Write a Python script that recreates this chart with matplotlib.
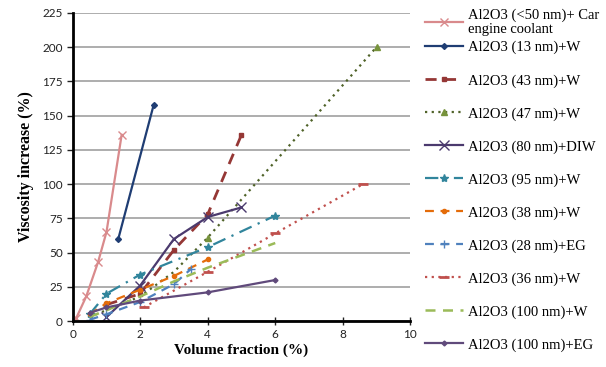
import matplotlib
matplotlib.use("Agg")
import matplotlib.pyplot as plt

# volume fraction (%) and viscosity increase (%) per nanofluid
labels = [
    "Al2O3 (<50 nm)+ Car\nengine coolant",
    "Al2O3 (13 nm)+W",
    "Al2O3 (43 nm)+W",
    "Al2O3 (47 nm)+W",
    "Al2O3 (80 nm)+DIW",
    "Al2O3 (95 nm)+W",
    "Al2O3 (38 nm)+W",
    "Al2O3 (28 nm)+EG",
    "Al2O3 (36 nm)+W",
    "Al2O3 (100 nm)+W",
    "Al2O3 (100 nm)+EG",
]

x_car = [0.1, 0.4, 0.75, 1.0, 1.45]
y_car = [2, 18, 43, 65, 136]
x_13 = [1.35, 2.4]
y_13 = [60, 158]
x_43 = [1, 2, 3, 4, 5]
y_43 = [12, 20, 52, 78, 136]
x_47 = [0.5, 1, 2, 3, 4, 9]
y_47 = [3, 8, 18, 36, 61, 200]
x_80 = [1, 2, 3, 4, 5]
y_80 = [3, 26, 60, 76, 83]
x_95 = [0.5, 1, 2, 4, 6]
y_95 = [5, 20, 34, 54, 77]
x_38 = [0.5, 1, 2, 3, 4]
y_38 = [5, 13, 23, 33, 45]
x_28 = [0.5, 1, 2, 3, 3.5]
y_28 = [1, 5, 14, 27, 38]
x_36 = [2.1, 4, 6, 8.6]
y_36 = [10, 36, 64, 100]
x_100w = [0.5, 1, 2, 3, 4, 5, 6]
y_100w = [3, 8, 18, 29, 39, 48, 57]
x_100eg = [0.5, 1, 2, 4, 6]
y_100eg = [6, 10, 15, 21, 30]

fig = plt.figure(figsize=(6.06, 3.67), dpi=100)
ax = fig.add_axes([0.120, 0.125, 0.557, 0.840])

lines = []
lines += ax.plot(x_car, y_car, color="#d98a8c", lw=1.6, marker="x", ms=6)
lines += ax.plot(x_13, y_13, color="#1f3d73", lw=1.6, marker="D", ms=3)
lines += ax.plot(x_43, y_43, color="#953735", lw=2.0, ls=(0, (4, 3)), marker="s", ms=2.5)
lines += ax.plot(x_47, y_47, color="#4f6228", lw=1.6, ls=(0, (1, 2)), marker="^", ms=5,
                 markevery=[4, 5], mfc="#77933c", mec="#77933c")
lines += ax.plot(x_80, y_80, color="#4b3a6e", lw=1.6, marker="x", ms=7)
lines += ax.plot(x_95, y_95, color="#31859c", lw=1.6, ls=(0, (6, 3, 1, 3)), marker="*", ms=6)
lines += ax.plot(x_38, y_38, color="#e46c0a", lw=1.6, ls=(0, (4, 3)), marker="o", ms=3)
lines += ax.plot(x_28, y_28, color="#4f81bd", lw=1.6, ls=(0, (4, 3)), marker="+", ms=6)
lines += ax.plot(x_36, y_36, color="#c0504d", lw=1.6, ls=(0, (1, 2)), marker="_", ms=7, mew=2)
lines += ax.plot(x_100w, y_100w, color="#9bbb59", lw=1.8, ls=(0, (4, 3)))
lines += ax.plot(x_100eg, y_100eg, color="#604a7b", lw=1.6, marker="D", ms=2.5)

ax.set_xlim(0, 10)
ax.set_ylim(0, 225)
ax.set_xticks(range(0, 11, 2))
ax.set_yticks(range(0, 226, 25))
ax.grid(axis="y", color="#a0a0a0", lw=1.2)
ax.set_axisbelow(True)
for s in ["top", "right"]:
    ax.spines[s].set_visible(False)
for s in ["left", "bottom"]:
    ax.spines[s].set_linewidth(2)
ax.tick_params(axis="y", direction="out", length=4, width=1, labelsize=8.5, pad=3, colors="#222222")
ax.tick_params(axis="x", direction="inout", length=6, width=1, labelsize=8.5, pad=3, colors="#222222")
for t in ax.get_xticklabels() + ax.get_yticklabels():
    t.set_fontfamily("Lato")

ax.set_xlabel("Volume fraction (%)", family="Liberation Serif", weight="bold", fontsize=11, labelpad=2)
ax.set_ylabel("Viscosity increase (%)", family="Liberation Serif", weight="bold", fontsize=11.5, labelpad=6)

# legend in two parts: the two-line entry on top, the rest evenly spaced below it
leg_kw = dict(loc="upper left", frameon=False, prop={"family": "Liberation Serif", "size": 10.5},
              handlelength=2.6, handletextpad=0.35, borderaxespad=0, borderpad=0,
              bbox_transform=fig.transFigure)
leg1 = fig.legend(lines[:1], labels[:1], bbox_to_anchor=(425 / 606, 1 - 9 / 367),
                  labelspacing=0.3, **leg_kw)
leg1.get_texts()[0].set_linespacing(1.05)
leg2 = fig.legend(lines[1:], labels[1:], bbox_to_anchor=(425 / 606, 1 - 41 / 367),
                  labelspacing=1.34, **leg_kw)

fig.savefig("out.png", dpi=100)
